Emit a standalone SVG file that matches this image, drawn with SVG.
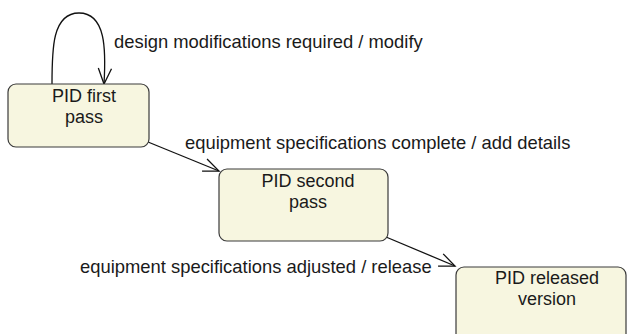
<svg xmlns="http://www.w3.org/2000/svg" width="627" height="334" viewBox="0 0 627 334">
  <style>
    .state rect { fill: #f7f6e0; stroke: #3a3a3a; stroke-width: 1.2; }
    .state text { font-family: "Liberation Sans", Arial, sans-serif; font-size: 18px; fill: #1a1a1a; text-anchor: middle; }
    .edge { fill: none; stroke: #111; stroke-width: 1.3; marker-end: url(#open-arrow); }
    .label { font-family: "Liberation Sans", Arial, sans-serif; font-size: 18.4px; fill: #1a1a1a; }
  </style>
  <defs>
    <marker id="open-arrow" markerUnits="userSpaceOnUse" viewBox="-20 -10 22 20" markerWidth="22" markerHeight="20" refX="0" refY="0" orient="auto" overflow="visible">
      <path d="M-15.6,-6.6 L0,0 L-15.6,6.6" fill="none" stroke="#111" stroke-width="1.3"/>
    </marker>
  </defs>
  <rect width="627" height="334" fill="#ffffff"/>

  <!-- transitions -->
  <g id="connectors">
    <path class="edge" d="M52,84 C52,50 52,13 79,13 C106,13 106,50 104,84"/>
    <path class="edge" d="M148,142 L219,171"/>
    <path class="edge" d="M386,237 L455,266"/>
    <text class="label" x="114" y="48">design modifications required / modify</text>
    <text class="label" x="185" y="149">equipment specifications complete / add details</text>
    <text class="label" x="80" y="273">equipment specifications adjusted / release</text>
  </g>

  <!-- states -->
  <g id="pid-first-pass" class="state">
    <rect x="8" y="84" width="141" height="63" rx="8"/>
    <text x="84" y="102">PID first</text>
    <text x="84" y="123">pass</text>
  </g>
  <g id="pid-second-pass" class="state">
    <rect x="219" y="169" width="169" height="72" rx="8"/>
    <text x="308" y="187">PID second</text>
    <text x="308" y="208">pass</text>
  </g>
  <g id="pid-released-version" class="state">
    <rect x="456" y="267" width="170" height="80" rx="8"/>
    <text x="547" y="284">PID released</text>
    <text x="547" y="305">version</text>
  </g>
</svg>
